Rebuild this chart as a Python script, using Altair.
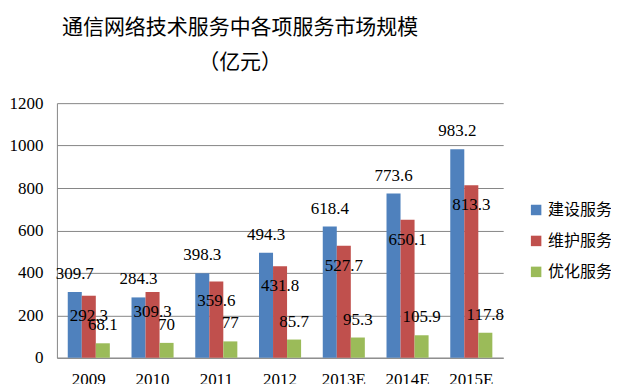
import altair as alt
import pandas as pd

years = ["2009", "2010", "2011", "2012", "2013E", "2014E", "2015E"]
series = ["建设服务", "维护服务", "优化服务"]
build = [309.7, 284.3, 398.3, 494.3, 618.4, 773.6, 983.2]
maintain = [292.3, 309.3, 359.6, 431.8, 527.7, 650.1, 813.3]
optimize = [68.1, 70, 77, 85.7, 95.3, 105.9, 117.8]
colors = ["#4F81BD", "#C0504D", "#9BBB59"]

rows = []
for s, vals in zip(series, [build, maintain, optimize]):
    for y, v in zip(years, vals):
        rows.append({"year": y, "series": s, "value": v, "label": f"{v:g}"})
df = pd.DataFrame(rows)

cjk = "Noto Sans CJK SC"
serif = "serif"

x = alt.X("year:N", sort=years, title=None,
          scale=alt.Scale(paddingInner=0.34, paddingOuter=0.17),
          axis=alt.Axis(labelAngle=0, labelFont=serif, labelFontSize=17, labelColor="black",
                        labelPadding=14, ticks=False, domainColor="#868686", grid=False))
y = alt.Y("value:Q", title=None,
          scale=alt.Scale(domain=[0, 1200], nice=False),
          axis=alt.Axis(values=[0, 200, 400, 600, 800, 1000, 1200], format="d", labelFont=serif,
                        labelFontSize=17, labelColor="black", labelPadding=14, ticks=False,
                        domainColor="#868686", gridColor="#868686", gridOpacity=1))
xo = alt.XOffset("series:N", sort=series)

base = alt.Chart(df)
bars = base.mark_bar().encode(
    x=x, y=y, xOffset=xo,
    color=alt.Color("series:N", sort=series,
                    scale=alt.Scale(domain=series, range=colors),
                    legend=alt.Legend(title=None, orient="none", legendX=472, legendY=99,
                                      symbolType="square", symbolSize=110, symbolStrokeWidth=0,
                                      labelFont=cjk, labelFontSize=16, labelColor="black",
                                      labelLimit=300, rowPadding=15, padding=0, labelOffset=4)),
)

def txt(s, dy):
    return base.transform_filter(alt.datum.series == s).mark_text(
        font=serif, fontSize=17, color="black", baseline="middle", dy=dy
    ).encode(x=x, y=y, xOffset=xo, text="label:N")

chart = alt.layer(
    bars, txt(series[0], -18), txt(series[1], 20), txt(series[2], -18)
).properties(
    width=447, height=255,
    title=alt.TitleParams(["通信网络技术服务中各项服务市场规模", "（亿元）"],
                          font=cjk, fontSize=21, fontWeight="normal", color="black",
                          lineHeight=35, anchor="middle", dx=-40, offset=21),
    padding={"left": 49, "top": 95, "right": 108, "bottom": 26},
    autosize=alt.AutoSizeParams(type="none"),
).configure_view(stroke=None)

chart.save("out.html", embed_options={"renderer": "svg", "actions": False})
